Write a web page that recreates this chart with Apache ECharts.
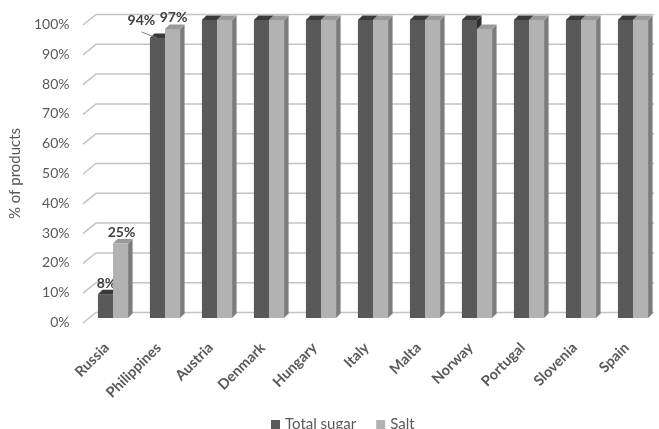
<!DOCTYPE html>
<html><head><meta charset="utf-8">
<script src="https://cdn.jsdelivr.net/npm/echarts@6/dist/echarts.min.js"></script>
<style>html,body{margin:0;padding:0;background:#fff}#c{width:659px;height:429px}</style>
</head><body><div id="c"></div>
<script>
const categories = ['Russia','Philippines','Austria','Denmark','Hungary','Italy','Malta','Norway','Portugal','Slovenia','Spain'];
const totalSugar = [8,94,100,100,100,100,100,100,100,100,100];
const salt = [25,97,100,100,100,100,100,97,100,100,100];
const labelledCategories = ['Russia','Philippines'];
const yTicks = [0,10,20,30,40,50,60,70,80,90,100];

const FONT = 'Lato';
const DX = 4.5, DY = -4.5;
const darkColors = {front:'#595959', side:'#2e2e2e', top:'#3a3a3a'};
const lightColors = {front:'#b2b2b2', side:'#7c7c7c', top:'#9a9a9a'};

function bar3d(side, colors, values, otherValues) {
  return function (params, api) {
    const i = api.value(0), v = api.value(1);
    const top = api.coord([i, v]), base = api.coord([i, 0]);
    const band = api.size([1, 0])[0];
    const w = band * 0.29;
    const x = side < 0 ? top[0] - w : top[0];
    const yt = top[1], yb = base[1];
    const children = [
      {type:'polygon', shape:{points:[[x+w,yt],[x+w+DX,yt+DY],[x+w+DX,yb+DY],[x+w,yb]]}, style:{fill:colors.side}},
      {type:'polygon', shape:{points:[[x,yt],[x+DX,yt+DY],[x+w+DX,yt+DY],[x+w,yt]]}, style:{fill:colors.top}},
      {type:'rect', shape:{x:x, y:yt, width:w, height:yb-yt}, style:{fill:colors.front}}
    ];
    if (labelledCategories.indexOf(categories[i]) >= 0) {
      const other = otherValues[i];
      const cx = x + w / 2;
      let lx = cx + 1, ly = yt - 11;
      if (side < 0 && other > v && other - v < 5) {
        lx = cx - 16; ly = yt - 17;
        children.push({type:'line', shape:{x1:lx, y1:ly+11, x2:cx-1, y2:yt}, style:{stroke:'#7f7f7f', lineWidth:1}});
      }
      children.push({type:'text', x:lx, y:ly, style:{text: v + '%', align:'center', verticalAlign:'middle', font:'bold 14px ' + FONT, fill:'#404040'}});
    }
    return {type:'group', children: children};
  };
}

const chart = echarts.init(document.getElementById('c'));
chart.setOption({
  animation: false,
  textStyle: {fontFamily: FONT},
  grid: [
    {left: 87, right: -3, top: 20, bottom: 111},
    {left: 87, right: -3, top: 24.5, bottom: 106.5}
  ],
  legend: {
    data: ['Total sugar', 'Salt'], left: 266, top: 412, icon: 'rect',
    itemWidth: 9, itemHeight: 9, itemGap: 20,
    textStyle: {fontFamily: FONT, fontSize: 15, color: '#595959'}
  },
  xAxis: [
    {
      type: 'category', data: categories, gridIndex: 0,
      axisLine: {show: false}, axisTick: {show: false},
      axisLabel: {rotate: 45, interval: 0, margin: 21, padding: [0, 9, 0, 0], fontWeight: 'bold', fontSize: 14.5, color: '#595959', fontFamily: FONT}
    },
    {type: 'category', data: categories, gridIndex: 1, show: false}
  ],
  yAxis: [
    {
      type: 'value', min: 0, max: 100, interval: 10, gridIndex: 0,
      axisLine: {show: false}, axisTick: {show: false}, splitLine: {show: false}, axisLabel: {show: false}
    },
    {
      type: 'value', min: 0, max: 100, interval: 10, gridIndex: 1,
      name: '% of products', nameLocation: 'middle', nameGap: 60,
      nameTextStyle: {fontSize: 15, color: '#595959', fontFamily: FONT},
      axisLine: {show: false}, axisTick: {show: false}, splitLine: {show: false},
      axisLabel: {formatter: '{value}%', margin: 20, fontSize: 14, color: '#595959', fontFamily: FONT}
    }
  ],
  series: [
    {
      type: 'custom', name: 'grid', silent: true, z: 0,
      data: yTicks.map(v => [0, v]),
      encode: {x: 0, y: 1},
      renderItem: function (params, api) {
        const y = api.coord([0, api.value(1)])[1];
        const cs = params.coordSys;
        return {type:'polyline', shape:{points:[[cs.x-4, y+5],[cs.x+9, y-5.5],[cs.x+cs.width-5, y-5.5]]},
                style:{stroke:'#c4c4c4', lineWidth:1.5, fill:null}};
      }
    },
    {
      type: 'custom', name: 'Total sugar', z: 2,
      itemStyle: {color: darkColors.front},
      data: totalSugar.map((v, i) => [i, v]),
      encode: {x: 0, y: 1},
      renderItem: bar3d(-1, darkColors, totalSugar, salt)
    },
    {
      type: 'custom', name: 'Salt', z: 3,
      itemStyle: {color: lightColors.front},
      data: salt.map((v, i) => [i, v]),
      encode: {x: 0, y: 1},
      renderItem: bar3d(1, lightColors, salt, totalSugar)
    }
  ]
});
</script>
</body></html>
